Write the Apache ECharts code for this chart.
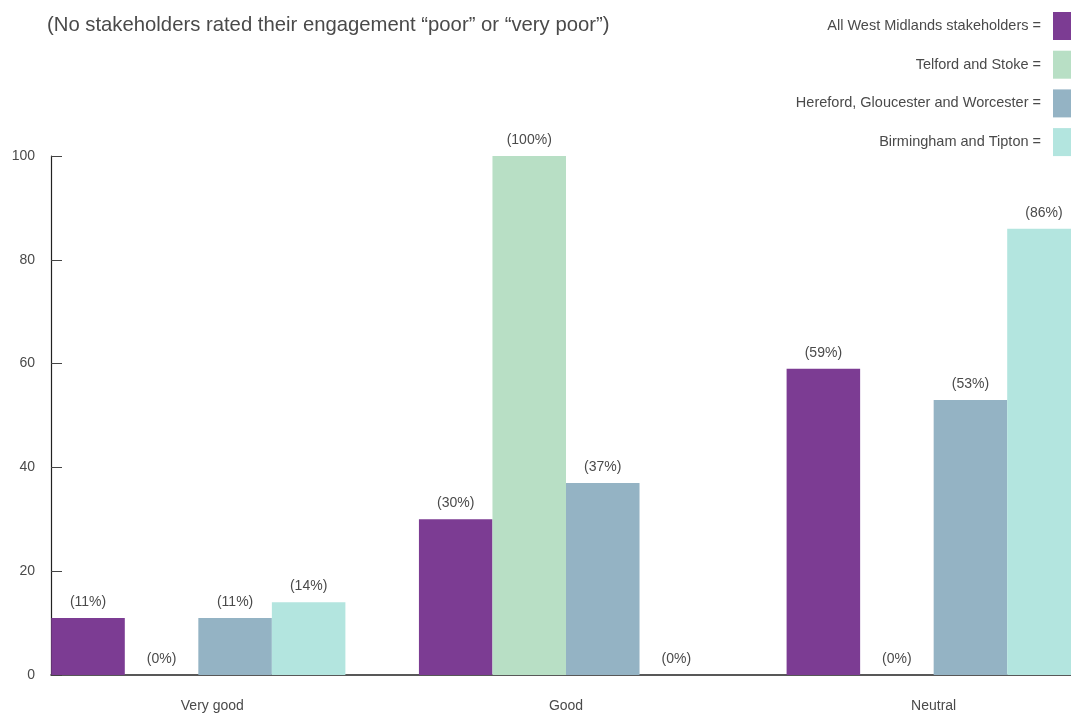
<!DOCTYPE html>
<html>
<head>
<meta charset="utf-8">
<script src="https://cdn.jsdelivr.net/npm/echarts@6/dist/echarts.min.js"></script>
<style>
  html, body { margin: 0; padding: 0; background: #fff; }
  #chart { width: 1071px; height: 713px; }
</style>
</head>
<body>
<div id="chart"></div>
<script>
// Engagement ratings by stakeholder group (percent)
const categories = ['Very good', 'Good', 'Neutral'];
const seriesNames = [
  'All West Midlands stakeholders',
  'Telford and Stoke',
  'Hereford, Gloucester and Worcester',
  'Birmingham and Tipton'
];
const allWestMidlands = [11, 30, 59];
const telfordStoke = [0, 100, 0];
const herefordGloucesterWorcester = [11, 37, 53];
const birminghamTipton = [14, 0, 86];
const yTicks = [0, 20, 40, 60, 80, 100];

const colors = ['#7c3c93', '#b8dfc5', '#94b3c4', '#b3e5df'];
const textColor = '#4a4a4a';
const fontFamily = '"Liberation Sans", Arial, Helvetica, sans-serif';

const seriesValues = [allWestMidlands, telfordStoke, herefordGloucesterWorcester, birminghamTipton];

const chart = echarts.init(document.getElementById('chart'), null, { renderer: 'canvas' });

const option = {
  animation: false,
  backgroundColor: '#fff',
  color: colors,
  textStyle: { fontFamily: fontFamily },
  title: {
    text: '(No stakeholders rated their engagement \u201cpoor\u201d or \u201cvery poor\u201d)',
    left: 42,
    top: 10,
    textStyle: { fontSize: 20.3, fontWeight: 'normal', color: textColor, fontFamily: fontFamily }
  },
  legend: {
    orient: 'vertical',
    right: 0,
    top: 12,
    padding: 0,
    align: 'right',
    itemWidth: 18,
    itemHeight: 28,
    itemGap: 10.7,
    icon: 'rect',
    data: seriesNames,
    formatter: name => name + ' =',
    textStyle: { fontSize: 14.5, color: textColor, fontFamily: fontFamily, padding: [0, 7, 0, 0] }
  },
  grid: [
    // bars grid: bands are wider than the drawing area on both sides
    { left: 14.5, top: 156, width: 1103, height: 519, containLabel: false, outerBoundsMode: 'none' },
    // frame grid: carries the visible y axis and baseline
    { left: 51, top: 156, right: 0, height: 519, containLabel: false, outerBoundsMode: 'none' }
  ],
  xAxis: [
    {
      gridIndex: 0,
      type: 'category',
      data: categories,
      axisLine: { show: false },
      axisTick: { show: false },
      axisLabel: {
        margin: 24,
        fontSize: 14,
        color: textColor,
        fontFamily: fontFamily,
        formatter: v => v === 'Very good' ? '{a|' + v + '}' : v,
        rich: { a: { fontSize: 14, color: textColor, fontFamily: fontFamily, padding: [0, 0, 0, 28] } }
      }
    },
    {
      gridIndex: 1,
      type: 'value',
      min: 0,
      max: 1,
      axisLine: { show: true, lineStyle: { color: '#222', width: 1.5 } },
      axisTick: { show: false },
      axisLabel: { show: false },
      splitLine: { show: false }
    }
  ],
  yAxis: [
    {
      gridIndex: 0,
      type: 'value',
      min: 0,
      max: 100,
      interval: 20,
      show: false,
      splitLine: { show: false }
    },
    {
      gridIndex: 1,
      type: 'value',
      min: yTicks[0],
      max: yTicks[yTicks.length - 1],
      interval: yTicks[1] - yTicks[0],
      axisLine: { show: true, lineStyle: { color: '#222', width: 1.2 } },
      axisTick: { show: true, inside: true, length: 11, lineStyle: { color: '#444', width: 1 } },
      axisLabel: { margin: 16, fontSize: 14, color: textColor, fontFamily: fontFamily },
      splitLine: { show: false }
    }
  ],
  series: seriesNames.map((name, i) => ({
    name: name,
    type: 'bar',
    xAxisIndex: 0,
    yAxisIndex: 0,
    data: seriesValues[i],
    barGap: '0%',
    barCategoryGap: '20%',
    itemStyle: { color: colors[i] },
    label: {
      show: true,
      position: 'top',
      distance: 9,
      formatter: p => '(' + p.value + '%)',
      fontSize: 14,
      color: textColor,
      fontFamily: fontFamily
    }
  }))
};

chart.setOption(option);
</script>
</body>
</html>
